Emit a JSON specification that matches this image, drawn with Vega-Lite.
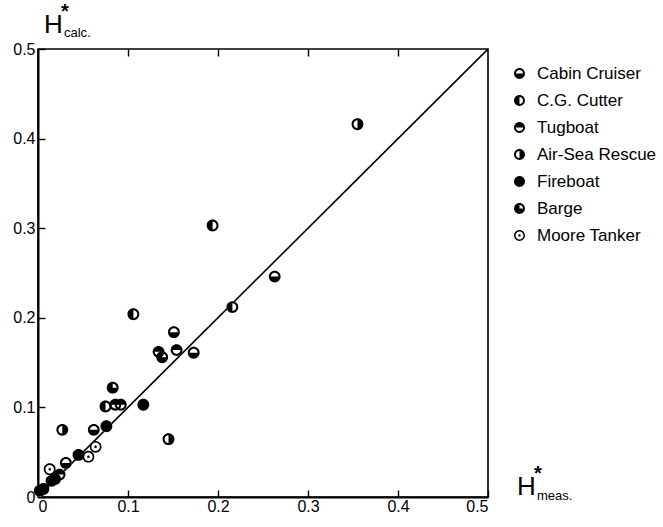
{
  "$schema": "https://vega.github.io/schema/vega-lite/v6.json",
  "width": 450,
  "height": 448,
  "autosize": {"type": "none"},
  "padding": {"left": 38, "top": 49, "right": 175, "bottom": 30},
  "background": "white",
  "config": {
    "view": {"stroke": "black", "strokeWidth": 1.6},
    "font": "Liberation Sans",
    "axis": {
      "domainColor": "black",
      "domainWidth": 2,
      "tickColor": "black",
      "tickWidth": 1.4,
      "grid": false,
      "labelColor": "black",
      "labelFont": "Liberation Sans",
      "labelFontSize": 16
    }
  },
  "data": {
    "values": [
      {"boat": "C.G. Cutter", "meas": 0.106, "calc": 0.204},
      {"boat": "Cabin Cruiser", "meas": 0.151, "calc": 0.184},
      {"boat": "Tugboat", "meas": 0.134, "calc": 0.162},
      {"boat": "Barge", "meas": 0.138, "calc": 0.156},
      {"boat": "Tugboat", "meas": 0.154, "calc": 0.164},
      {"boat": "Cabin Cruiser", "meas": 0.173, "calc": 0.161},
      {"boat": "Barge", "meas": 0.083, "calc": 0.122},
      {"boat": "C.G. Cutter", "meas": 0.075, "calc": 0.101},
      {"boat": "Tugboat", "meas": 0.086, "calc": 0.103},
      {"boat": "Tugboat", "meas": 0.092, "calc": 0.103},
      {"boat": "Fireboat", "meas": 0.117, "calc": 0.103},
      {"boat": "Air-Sea Rescue", "meas": 0.027, "calc": 0.075},
      {"boat": "Cabin Cruiser", "meas": 0.062, "calc": 0.075},
      {"boat": "Fireboat", "meas": 0.076, "calc": 0.079},
      {"boat": "Air-Sea Rescue", "meas": 0.145, "calc": 0.0645},
      {"boat": "Moore Tanker", "meas": 0.064, "calc": 0.056},
      {"boat": "Moore Tanker", "meas": 0.056, "calc": 0.045},
      {"boat": "Fireboat", "meas": 0.045, "calc": 0.047},
      {"boat": "Cabin Cruiser", "meas": 0.031, "calc": 0.038},
      {"boat": "Moore Tanker", "meas": 0.013, "calc": 0.031},
      {"boat": "Tugboat", "meas": 0.024, "calc": 0.025},
      {"boat": "Fireboat", "meas": 0.015, "calc": 0.018},
      {"boat": "Fireboat", "meas": 0.019, "calc": 0.02},
      {"boat": "Fireboat", "meas": 0.006, "calc": 0.009},
      {"boat": "Fireboat", "meas": 0.002, "calc": 0.007},
      {"boat": "C.G. Cutter", "meas": 0.194, "calc": 0.303},
      {"boat": "C.G. Cutter", "meas": 0.216, "calc": 0.212},
      {"boat": "Cabin Cruiser", "meas": 0.263, "calc": 0.246},
      {"boat": "Air-Sea Rescue", "meas": 0.355, "calc": 0.416}
    ]
  },
  "resolve": {"axis": {"x": "independent"}},
  "layer": [
    {
      "data": {"values": [{"meas": 0, "calc": 0}, {"meas": 0.5, "calc": 0.5}]},
      "mark": {"type": "line", "color": "black", "strokeWidth": 1.6, "clip": true},
      "encoding": {
        "x": {
          "field": "meas", "type": "quantitative",
          "scale": {"domain": [0, 0.5], "nice": false, "zero": false},
          "axis": {"orient": "top", "values": [0.1, 0.2, 0.3, 0.4], "labels": false, "domain": false, "tickSize": -7, "title": null}
        },
        "y": {
          "field": "calc", "type": "quantitative",
          "scale": {"domain": [0, 0.5], "nice": false, "zero": false},
          "axis": {"orient": "left", "values": [0, 0.1, 0.2, 0.3, 0.4, 0.5], "format": ".1~f", "tickSize": -7, "labelPadding": 10, "title": null}
        }
      }
    },
    {
      "mark": {"type": "point", "shape": "circle", "filled": true, "color": "white", "opacity": 1, "size": 140},
      "encoding": {
        "x": {"field": "meas", "type": "quantitative", "axis": null},
        "y": {"field": "calc", "type": "quantitative"}
      }
    },
    {
      "mark": {"type": "point", "filled": true, "color": "black", "opacity": 1, "size": 140, "strokeWidth": 0},
      "encoding": {
        "x": {
          "field": "meas", "type": "quantitative",
          "axis": {"orient": "bottom", "values": [0, 0.1, 0.2, 0.3, 0.4, 0.5], "format": ".1~f", "tickSize": -7, "labelPadding": 8, "title": null}
        },
        "y": {"field": "calc", "type": "quantitative"},
        "shape": {
          "field": "boat", "type": "nominal",
          "scale": {
            "domain": ["Cabin Cruiser", "C.G. Cutter", "Tugboat", "Air-Sea Rescue", "Fireboat", "Barge", "Moore Tanker"],
            "range": [
              "M1,0A1,1 0 0,1 -1,0A1,1 0 0,1 1,0Z M0.66,0A0.66,0.66 0 0,0 -0.66,0A0.66,0.66 0 0,0 0.66,0Z M-0.66,0A0.66,0.66 0 0,0 0.66,0Z",
              "M1,0A1,1 0 0,1 -1,0A1,1 0 0,1 1,0Z M0.66,0A0.66,0.66 0 0,0 -0.66,0A0.66,0.66 0 0,0 0.66,0Z M0,-0.66A0.66,0.66 0 0,0 0,0.66Z",
              "M1,0A1,1 0 0,1 -1,0A1,1 0 0,1 1,0Z M0.66,0A0.66,0.66 0 0,0 -0.66,0A0.66,0.66 0 0,0 0.66,0Z M-0.66,0A0.66,0.66 0 0,1 0.66,0Z",
              "M1,0A1,1 0 0,1 -1,0A1,1 0 0,1 1,0Z M0.66,0A0.66,0.66 0 0,0 -0.66,0A0.66,0.66 0 0,0 0.66,0Z M0,-0.66A0.66,0.66 0 0,1 0,0.66Z",
              "M1,0A1,1 0 0,1 -1,0A1,1 0 0,1 1,0Z",
              "M1,0A1,1 0 0,1 -1,0A1,1 0 0,1 1,0Z M0.66,0A0.66,0.66 0 0,0 -0.66,0A0.66,0.66 0 0,0 0.66,0Z M0,0L0,-0.66A0.66,0.66 0 1,0 0.66,0Z",
              "M1,0A1,1 0 0,1 -1,0A1,1 0 0,1 1,0Z M0.72,0A0.72,0.72 0 0,0 -0.72,0A0.72,0.72 0 0,0 0.72,0Z M0.22,0A0.22,0.22 0 0,1 -0.22,0A0.22,0.22 0 0,1 0.22,0Z"
            ]
          },
          "legend": {
            "orient": "none",
            "legendX": 473,
            "legendY": 16,
            "title": null,
            "padding": 0,
            "symbolSize": 120,
            "symbolFillColor": "black",
            "symbolStrokeWidth": 0,
            "symbolType": "circle",
            "labelFont": "Liberation Sans",
            "labelFontSize": 17,
            "labelColor": "black",
            "labelOffset": 9,
            "rowPadding": 9
          }
        }
      }
    },
    {
      "data": {"values": [{"part": "H"}]},
      "encoding": {
        "x": {"datum": 0, "type": "quantitative", "axis": null},
        "y": {"datum": 0.5, "type": "quantitative"}
      },
      "layer": [
        {"mark": {"type": "text", "text": "H", "fontSize": 26, "align": "left", "baseline": "alphabetic", "dx": 6, "dy": -16, "color": "black"}},
        {"mark": {"type": "text", "text": "*", "fontSize": 20, "fontWeight": "bold", "align": "left", "baseline": "alphabetic", "dx": 23, "dy": -31, "color": "black"}},
        {"mark": {"type": "text", "text": "calc.", "fontSize": 13, "align": "left", "baseline": "alphabetic", "dx": 26, "dy": -12, "color": "black"}}
      ]
    },
    {
      "data": {"values": [{"part": "H"}]},
      "encoding": {
        "x": {"datum": 0.5, "type": "quantitative", "axis": null},
        "y": {"datum": 0, "type": "quantitative"}
      },
      "layer": [
        {"mark": {"type": "text", "text": "H", "fontSize": 26, "align": "left", "baseline": "alphabetic", "dx": 29, "dy": -2, "color": "black"}},
        {"mark": {"type": "text", "text": "*", "fontSize": 20, "fontWeight": "bold", "align": "left", "baseline": "alphabetic", "dx": 46, "dy": -17, "color": "black"}},
        {"mark": {"type": "text", "text": "meas.", "fontSize": 13, "align": "left", "baseline": "alphabetic", "dx": 49, "dy": 3, "color": "black"}}
      ]
    }
  ]
}
